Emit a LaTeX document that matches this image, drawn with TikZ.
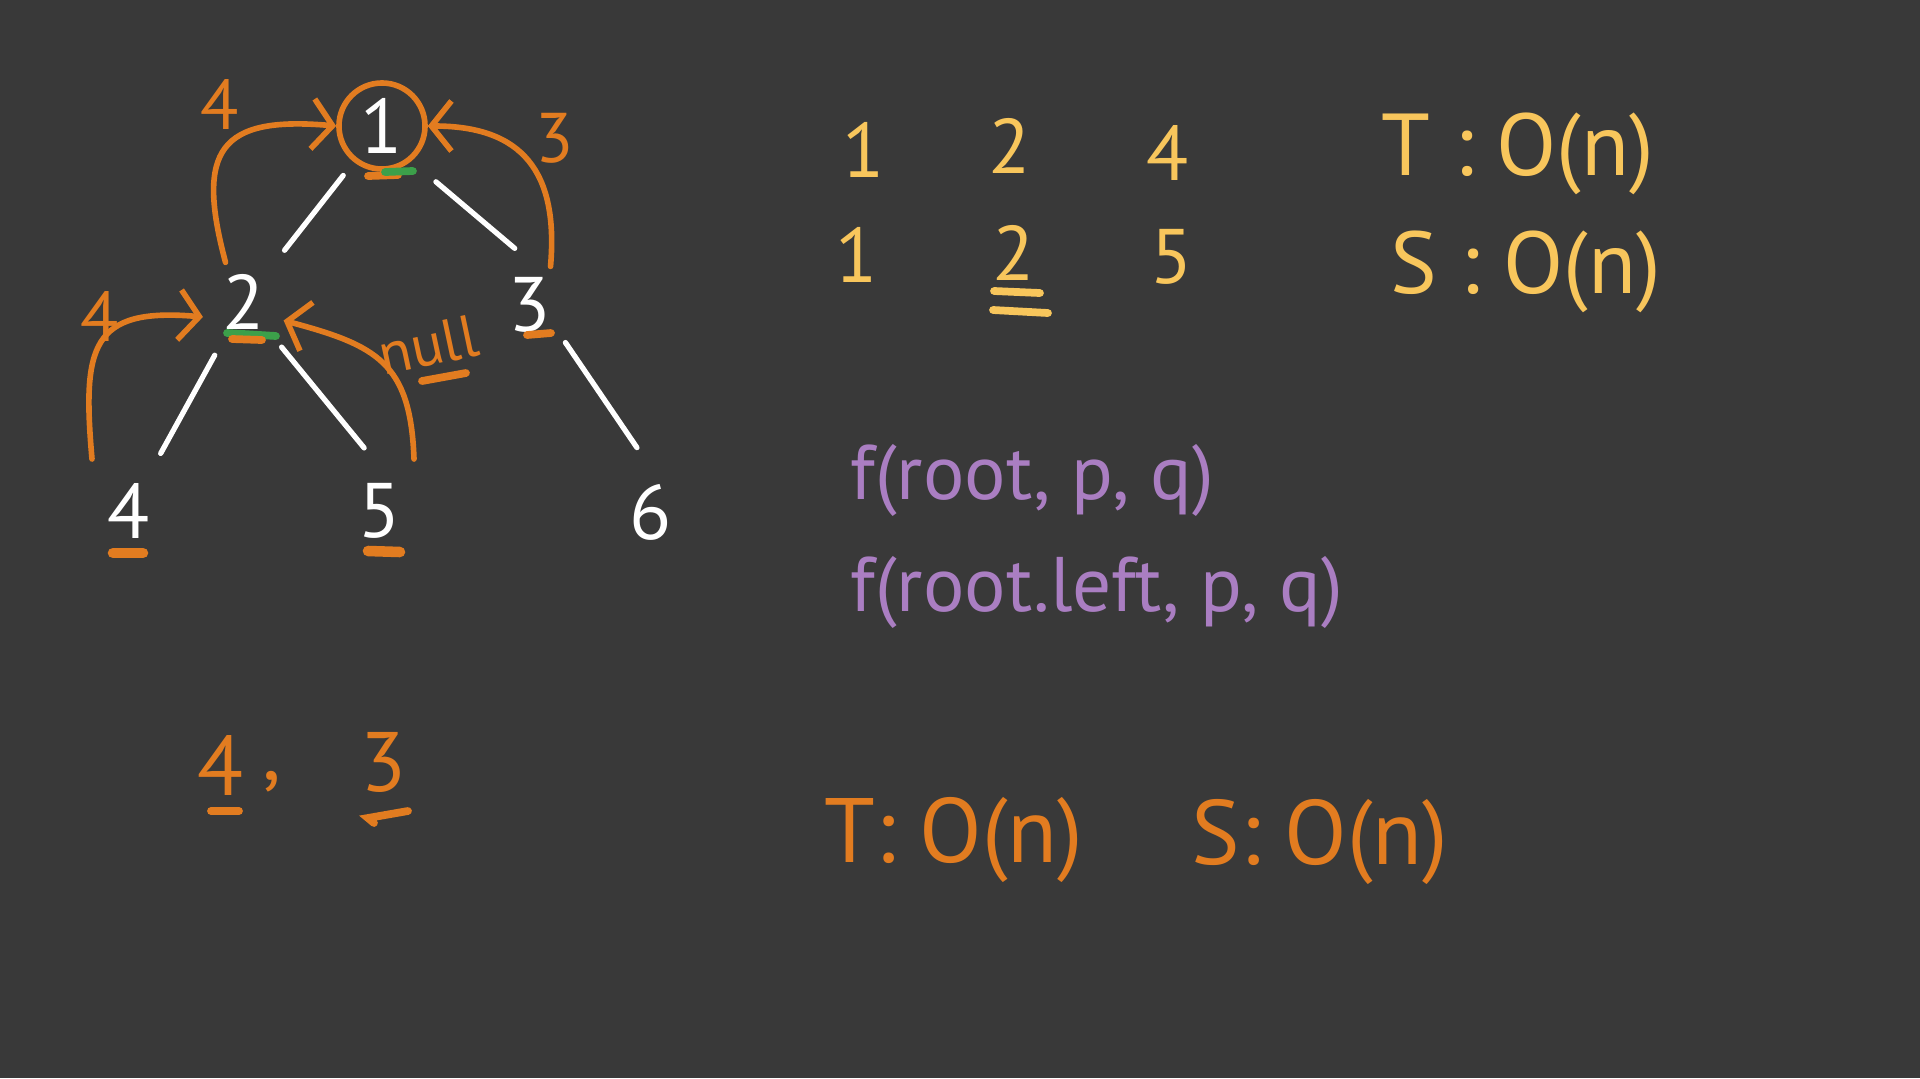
\documentclass[tikz,border=0pt]{standalone}
\usepackage{fontspec}
\setmainfont{PT Sans}
\usetikzlibrary{arrows.meta,calc}

\definecolor{board}{RGB}{57,57,57}
\definecolor{chalkorange}{RGB}{226,124,32}
\definecolor{chalkyellow}{RGB}{248,198,92}
\definecolor{chalkpurple}{RGB}{170,126,194}
\definecolor{chalkgreen}{RGB}{60,160,74}

\begin{document}
\begin{tikzpicture}[x=0.01cm, y=0.01cm,
    tnode/.style={circle, minimum size=0.86cm, inner sep=0pt, text=white,
      font=\fontsize{22}{26}\selectfont},
    tedge/.style={white, line width=1.5pt, line cap=round,
      shorten <=0.17cm, shorten >=0.22cm},
    trace/.style={chalkorange, line width=1.6pt, line cap=round,
      -{Straight Barb[length=2mm,width=5mm]}},
    note/.style={text=chalkorange, font=\fontsize{20}{24}\selectfont},
    ulmark/.style={line width=2.2pt, line cap=round},
    seq/.style={text=chalkyellow, font=\fontsize{22}{26}\selectfont},
    costline/.style={text=chalkyellow, font=\fontsize{25}{30}\selectfont},
    code/.style={text=chalkpurple, font=\fontsize{22}{26}\selectfont},
    cost/.style={text=chalkorange, font=\fontsize{26}{30}\selectfont}
  ]
    \fill[board] (0,0) rectangle (1920,-1078);
    \useasboundingbox (0,0) rectangle (1920,-1078);

    % tree
    \node[tnode, draw=chalkorange, line width=1.6pt] (n1) at (382,-126) {1};
    \node[tnode] (n2) at (244,-302) {2};
    \node[tnode] (n3) at (530,-305) {3};
    \node[tnode] (n4) at (129,-511) {4};
    \node[tnode] (n5) at (380,-511) {5};
    \node[tnode] (n6) at (651,-512) {6};
    \draw[tedge] (n1) -- (n2);
    \draw[tedge, shorten <=0.32cm, shorten >=0.2cm] (n1.-50) -- (n3.north);
    \draw[tedge] (n2) -- (n4);
    \draw[tedge, shorten <=0.15cm, shorten >=0.25cm] (n2.-50) -- (n5.north);
    \draw[tedge, shorten <=0.08cm, shorten >=0.25cm] (n3.-45) -- (n6.north);

    % returned values
    \draw[trace] (n2.115) to[out=105, in=175, looseness=1.7] (n1.west);
    \draw[trace] (n3.62) to[out=85, in=0, looseness=1.3] (n1.east);
    \draw[trace] ($(n4)+(-37,52)$) to[out=95, in=175, looseness=1.6] (n2.200);
    \draw[trace] ($(n5)+(34,52)$) to[out=92, in=-15, looseness=1.3] (n2.-25);
    \node[note] (ret4a) at (220,-104) {4};
    \node[note] (ret3) at (555,-138) {3};
    \node[note] (ret4b) at (100,-316) {4};
    \node[note, rotate=12, font=\fontsize{17}{20}\selectfont] (retnull) at (428,-345) {null};
    \draw[ulmark, chalkorange] (422,-381) -- (466,-373);

    % marks under nodes
    \draw[ulmark, chalkorange] ($(n1)+(-14,-50)$) -- ++(30,1);
    \draw[ulmark, chalkgreen] ($(n1)+(3,-46)$) -- ++(28,1);
    \draw[ulmark, chalkgreen] ($(n2)+(-17,-31)$) -- ++(49,-3);
    \draw[ulmark, chalkorange] ($(n2)+(-12,-37)$) -- ++(30,-1);
    \draw[ulmark, chalkorange] ($(n3)+(-3,-30)$) -- ++(24,2);
    \draw[ulmark, chalkorange, line width=3pt] ($(n4)+(-16,-42)$) -- ++(30,0);
    \draw[ulmark, chalkorange, line width=3pt] ($(n5)+(-12,-40)$) -- ++(32,-1);

    % paths
    \node[seq] (a1) at (864,-150) {1};
    \node[seq] (a2) at (1010,-146) {2};
    \node[seq] (a4) at (1168,-153) {4};
    \node[costline] (tcost) at (1518,-154) {T : O(n)};
    \node[seq] (b1) at (857,-255) {1};
    \node[seq] (b2) at (1014,-253) {2};
    \node[seq] (b5) at (1172,-257) {5};
    \node[costline] (scost) at (1526,-272) {S : O(n)};
    \draw[ulmark, chalkyellow] ($(b2)+(-20,-38)$) -- ++(46,-2);
    \draw[ulmark, chalkyellow] ($(b2)+(-21,-57)$) -- ++(55,-3);

    % recursion
    \node[code, anchor=west] (call) at (838,-480) {f(root, p, q)};
    \node[code, anchor=west] (callleft) at (838,-592) {f(root.left, p, q)};

    % answer
    \node[note, font=\fontsize{24}{28}\selectfont] (ans4) at (220,-765) {4};
    \node[note, font=\fontsize{24}{28}\selectfont] (anscomma) at (272,-782) {,};
    \node[note, font=\fontsize{24}{28}\selectfont] (ans3) at (383,-762) {3};
    \draw[ulmark, chalkorange] (211,-811) -- (239,-811);
    \draw[ulmark, chalkorange] (408,-811) -- (368,-818) -- (374,-823);

    \node[cost] (tbig) at (954,-840) {T: O(n)};
    \node[cost] (sbig) at (1320,-842) {S: O(n)};
\end{tikzpicture}
\end{document}
